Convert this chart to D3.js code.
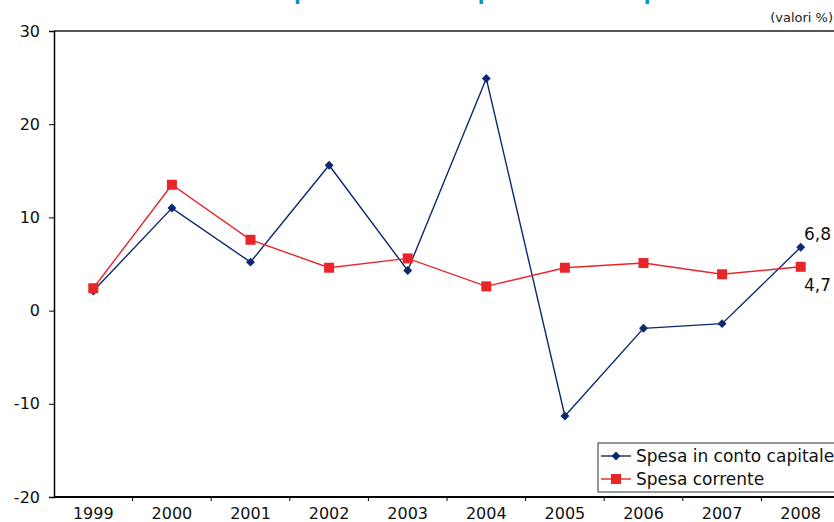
<!DOCTYPE html>
<html><head><meta charset="utf-8">
<script src="https://cdn.jsdelivr.net/npm/d3@7"></script>
<style>body{margin:0;background:#fff;overflow:hidden}svg{display:block}text{font-family:"DejaVu Sans",sans-serif}</style>
</head><body>
<script>
const years = ["1999","2000","2001","2002","2003","2004","2005","2006","2007","2008"];
const spesaCapitale = [2.1, 11.0, 5.2, 15.6, 4.3, 24.9, -11.3, -1.9, -1.4, 6.8];
const spesaCorrente = [2.4, 13.5, 7.6, 4.6, 5.6, 2.6, 4.6, 5.1, 3.9, 4.7];
const yTicks = [-20, -10, 0, 10, 20, 30];
const seriesNames = ["Spesa in conto capitale", "Spesa corrente"];
const endLabels = ["6,8", "4,7"];
const titleText = "Tassi di crescita della spesa in conto capitale e della spesa corrente";

const W = 834, H = 522;
const svg = d3.select("body").append("svg").attr("width", W).attr("height", H);

const x = d3.scaleBand().domain(years).range([54, 840]).padding(0);
const y = d3.scaleLinear().domain([-20, 30]).range([497, 31]);
const cx = d => x(d) + x.bandwidth() / 2;

// title (cut off at top of the picture)
svg.append("text").attr("x", 417).attr("y", -0.5).attr("text-anchor", "middle")
  .attr("font-size", 20).attr("font-weight", "bold").attr("fill", "#0a93b5")
  .text(titleText);

svg.append("text").attr("x", 833).attr("y", 22).attr("text-anchor", "end")
  .attr("font-size", 13).attr("fill", "#222").text("(valori %)");

// top border
svg.append("line").attr("x1", 54).attr("x2", W).attr("y1", y(30)).attr("y2", y(30))
  .attr("stroke", "#555").attr("stroke-width", 2);

// y axis
const yAxis = d3.axisLeft(y).tickValues(yTicks).tickSize(5).tickFormat(d => String(d));
const gy = svg.append("g").attr("transform", "translate(54,0)").call(yAxis);
gy.select(".domain").attr("stroke", "#000").attr("stroke-width", 1.5);
gy.selectAll(".tick line").attr("stroke", "#000");
gy.selectAll(".tick text").attr("font-size", 16).attr("fill", "#111").attr("x", -14)
  .style("font-family", "DejaVu Sans");

// x axis
const gx = svg.append("g").attr("transform", `translate(0,${y(-20)})`);
gx.append("line").attr("x1", 54).attr("x2", W).attr("stroke", "#000").attr("stroke-width", 2);
gx.selectAll("line.t").data(years.slice(1)).join("line").attr("class", "t")
  .attr("x1", d => x(d)).attr("x2", d => x(d)).attr("y1", 0).attr("y2", 4)
  .attr("stroke", "#000");
gx.selectAll("text").data(years).join("text")
  .attr("x", d => cx(d)).attr("y", 22).attr("text-anchor", "middle")
  .attr("font-size", 16).attr("fill", "#111").text(d => d);

const colors = ["#0b2a6f", "#e8262a"];
const data = [spesaCapitale, spesaCorrente];
const line = d3.line().x((d, i) => cx(years[i])).y(d => y(d));

data.forEach((vals, s) => {
  svg.append("path").attr("d", line(vals)).attr("fill", "none")
    .attr("stroke", colors[s]).attr("stroke-width", 1.4);
});
// markers
svg.selectAll("path.dia").data(spesaCapitale).join("path").attr("class", "dia")
  .attr("d", d3.symbol().type(d3.symbolSquare).size(40)())
  .attr("transform", (d, i) => `translate(${cx(years[i])},${y(d)}) rotate(45)`)
  .attr("fill", colors[0]);
svg.selectAll("rect.sq").data(spesaCorrente).join("rect").attr("class", "sq")
  .attr("x", (d, i) => cx(years[i]) - 5).attr("y", d => y(d) - 5)
  .attr("width", 10).attr("height", 10).attr("fill", colors[1]);

// end labels
svg.append("text").attr("x", 804).attr("y", y(spesaCapitale[9]) - 7)
  .attr("font-size", 17).attr("fill", "#111").text(endLabels[0]);
svg.append("text").attr("x", 804).attr("y", y(spesaCorrente[9]) + 24)
  .attr("font-size", 17).attr("fill", "#111").text(endLabels[1]);

// legend
const lg = svg.append("g");
lg.append("rect").attr("x", 598).attr("y", 443).attr("width", 260).attr("height", 49)
  .attr("fill", "#fff").attr("stroke", "#333").attr("stroke-width", 1);
seriesNames.forEach((n, s) => {
  const ly = 456 + s * 23;
  lg.append("line").attr("x1", 601).attr("x2", 631).attr("y1", ly).attr("y2", ly)
    .attr("stroke", colors[s]).attr("stroke-width", 1.4);
  if (s === 0) {
    lg.append("path").attr("d", d3.symbol().type(d3.symbolSquare).size(40)())
      .attr("transform", `translate(616,${ly}) rotate(45)`).attr("fill", colors[0]);
  } else {
    lg.append("rect").attr("x", 611).attr("y", ly - 5).attr("width", 10).attr("height", 10)
      .attr("fill", colors[1]);
  }
  lg.append("text").attr("x", 636).attr("y", ly + 6).attr("font-size", 17)
    .attr("fill", "#111").text(n);
});
</script>
</body></html>
